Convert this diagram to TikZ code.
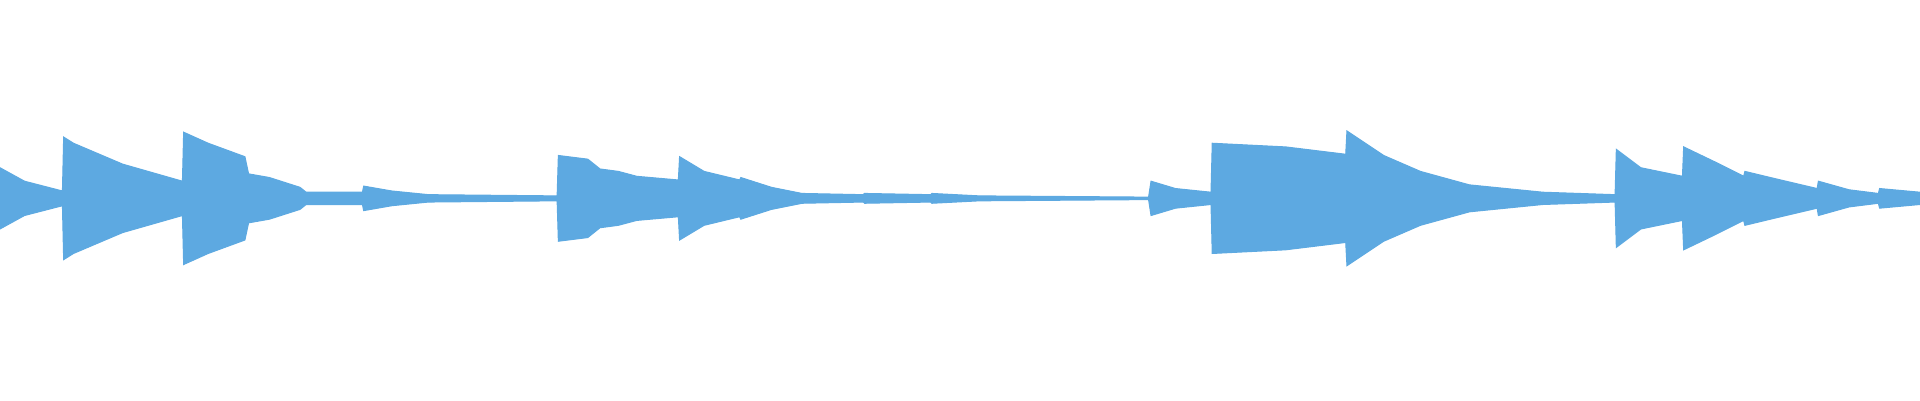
\documentclass[tikz,border=0pt]{standalone}
\usetikzlibrary{calc}
\definecolor{wave}{HTML}{5DA9E1}

\begin{document}
\begin{tikzpicture}[x=0.012245cm,y=0.012245cm]
    \useasboundingbox (0,-165) rectangle (1568,162);
    % envelope of the upper half: (x, amplitude)
    \def\env{(0,25) (20,14) (51,6) (52,50) (60,45) (100,28) (149,14)
        (150,54) (170,45) (200,34) (203,20) (220,17) (245,9) (250,5)
        (296,5) (297,10) (320,6) (350,3) (455,2)
        (456,35) (480,32) (490,24) (505,22) (520,18) (554,15)
        (555,34) (575,22) (604,15) (605,17) (630,9) (655,4) (705,3)
        (706,4) (760,3) (761,4) (800,2) (938,1)
        (940,14) (960,8) (989,5) (990,45) (1050,42) (1099,36)
        (1100,55) (1130,35) (1160,22) (1200,11) (1260,5) (1319,3)
        (1320,40) (1340,25) (1374,18) (1375,42) (1400,30) (1424,18)
        (1425,22) (1450,16) (1484,8) (1485,14) (1510,7) (1534,4)
        (1535,8) (1568,5)}
    \begin{scope}[every path/.style={fill=wave,draw=wave,line width=0.3pt}]
        \fill (0,0) -- plot coordinates {\env} -- (1568,0) -- cycle;
        \fill[yscale=-1] (0,0) -- plot coordinates {\env} -- (1568,0) -- cycle;
        \draw (0,0) -- (1568,0);
    \end{scope}
\end{tikzpicture}
\end{document}
